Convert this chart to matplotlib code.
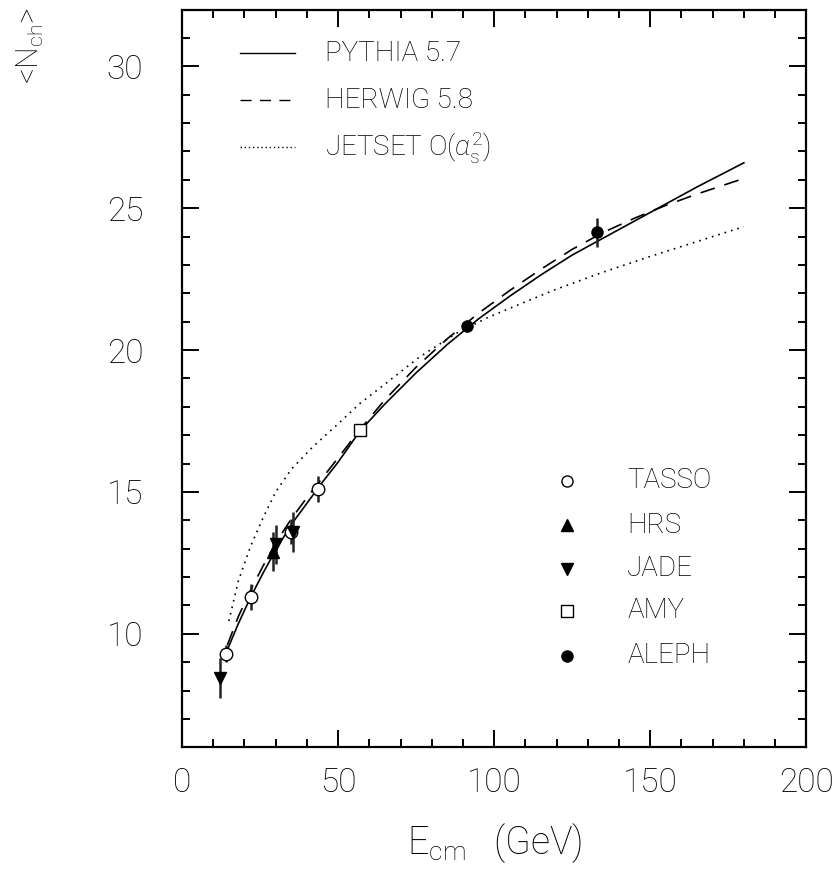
import matplotlib.pyplot as plt
from matplotlib.ticker import MultipleLocator

# thin sans font for all text
plt.rcParams['font.family'] = ['Roboto', 'DejaVu Sans']
plt.rcParams['font.weight'] = 'light'
plt.rcParams['axes.labelweight'] = 'light'
plt.rcParams['mathtext.fontset'] = 'custom'
plt.rcParams['mathtext.rm'] = 'Roboto:light'
plt.rcParams['mathtext.it'] = 'Roboto:italic:light'

# model curves: E_cm (GeV) vs <N_ch>
pythia_e = [14, 18, 22, 26, 30, 35, 40, 45, 50, 57, 65, 75, 85, 95, 105,
            115, 125, 135, 145, 155, 165, 180]
pythia_n = [9.3, 10.35, 11.3, 12.15, 12.95, 13.85, 14.6, 15.35, 16.05, 17.15,
            18.1, 19.2, 20.2, 21.1, 21.9, 22.65, 23.35, 23.95, 24.55, 25.15, 25.75, 26.6]

herwig_e = [14.5, 18, 22, 26, 30, 35, 40, 45, 50, 57, 65, 75, 85, 95, 105,
            115, 125, 135, 145, 155, 165, 180]
herwig_n = [9.6, 10.6, 11.55, 12.4, 13.2, 14.05, 14.8, 15.5, 16.2, 17.2,
            18.25, 19.4, 20.4, 21.3, 22.1, 22.85, 23.55, 24.15, 24.65, 25.1, 25.5, 26.05]

jetset_e = [15, 18, 22, 26, 30, 35, 42, 50, 57, 65, 76, 88, 98, 110,
            120, 135, 150, 160, 170, 180]
jetset_n = [10.45, 11.85, 13.1, 14.1, 15.0, 15.8, 16.6, 17.4, 18.12, 18.8,
            19.75, 20.6, 21.15, 21.7, 22.15, 22.75, 23.3, 23.65, 24.0, 24.35]

# measurements
tasso_e = [14.0, 22.0, 34.8, 43.6]
tasso_n = [9.3, 11.3, 13.6, 15.1]
tasso_err = [0.3, 0.45, 0.45, 0.45]

hrs_e = [29.0]
hrs_n = [12.9]
hrs_err = [0.7]

jade_e = [12.0, 30.0, 35.5]
jade_n = [8.45, 13.15, 13.6]
jade_err = [0.7, 0.7, 0.7]

amy_e = [57.0]
amy_n = [17.2]
amy_err = [0.15]

aleph_e = [91.2, 133.0]
aleph_n = [20.85, 24.15]
aleph_err = [0.2, 0.5]

fig = plt.figure(figsize=(8.39, 8.73), dpi=100)
ax = fig.add_axes([0.217, 0.144, 0.744, 0.845])

ax.plot(pythia_e, pythia_n, color='black', lw=1.2)
ax.plot(herwig_e, herwig_n, color='black', lw=1.2, dashes=(9, 6))
ax.plot(jetset_e, jetset_n, color='black', lw=1.2, dashes=(1, 3))

eb = dict(color='black', ecolor='#222222', elinewidth=1.8, capsize=0, ls='none')
ax.errorbar(tasso_e, tasso_n, yerr=tasso_err, marker='o', ms=9, mfc='white',
            mec='black', mew=1.0, **eb)
ax.errorbar(hrs_e, hrs_n, yerr=hrs_err, marker='^', ms=8, **eb)
ax.errorbar(jade_e, jade_n, yerr=jade_err, marker='v', ms=8, **eb)
ax.errorbar(amy_e, amy_n, yerr=amy_err, marker='s', ms=8, mfc='white',
            mec='black', mew=1.0, **eb)
ax.errorbar(aleph_e, aleph_n, yerr=aleph_err, marker='o', ms=8, **eb)

# line legend, top left
ax.plot([18.6, 36.2], [30.47, 30.47], color='black', lw=1.0)
ax.plot([18.6, 36.2], [28.81, 28.81], color='black', lw=1.0, dashes=(8, 6))
ax.plot([18.6, 36.2], [27.15, 27.15], color='black', lw=1.0, dashes=(1, 2))
lkw = dict(fontsize=20, va='center', ha='left')
ax.text(45.8, 30.47, 'PYTHIA 5.7', **lkw)
ax.text(45.8, 28.81, 'HERWIG 5.8', **lkw)
ax.text(45.8, 27.15, r'JETSET O($\mathit{\alpha}_{\rm s}^{2}$)', **lkw)

# marker legend, bottom right
mk = [('o', 'white', 'TASSO'), ('^', 'black', 'HRS'), ('v', 'black', 'JADE'),
      ('s', 'white', 'AMY'), ('o', 'black', 'ALEPH')]
ys = [15.4, 13.82, 12.3, 10.82, 9.23]
for (m, fc, name), y in zip(mk, ys):
    ax.plot([123.3], [y], marker=m, ms=8, mfc=fc, mec='black', mew=1.0, ls='none')
    ax.text(142.6, y, name, **lkw)

ax.set_xlim(0, 200)
ax.set_ylim(6, 32)
ax.xaxis.set_major_locator(MultipleLocator(50))
ax.xaxis.set_minor_locator(MultipleLocator(10))
ax.yaxis.set_major_locator(MultipleLocator(5))
ax.yaxis.set_minor_locator(MultipleLocator(1))
ax.tick_params(which='both', direction='in', top=True, right=True,
               labelsize=24, colors='black')
ax.tick_params(which='major', length=12, width=1.4, pad=14)
ax.tick_params(which='minor', length=6, width=1.4)
ax.tick_params(axis='y', pad=28)
for s in ax.spines.values():
    s.set_linewidth(1.6)

ax.set_xlabel(r'E$_{\rm cm}$   (GeV)', fontsize=27, labelpad=16)
fig.text(0.036, 0.948, r'<N$_{\rm ch}$>', rotation=90,
         fontsize=22, ha='center', va='center')

fig.savefig('out.png', dpi=100)
